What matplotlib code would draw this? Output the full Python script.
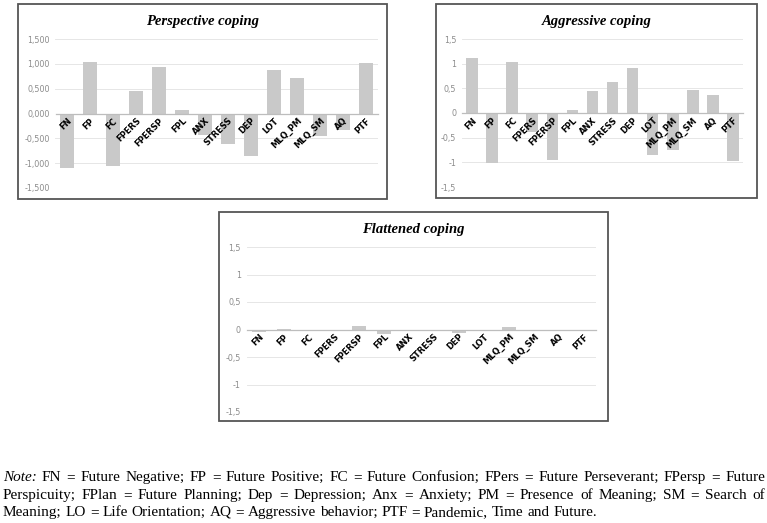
import matplotlib
matplotlib.use("Agg")
import matplotlib.pyplot as plt
import matplotlib.patches as mpatches
from matplotlib.ticker import FuncFormatter

W, H = 767, 523

categories = ["FN", "FP", "FC", "FPERS", "FPERSP", "FPL", "ANX", "STRESS",
              "DEP", "LOT", "MLQ_PM", "MLQ_SM", "AQ", "PTF"]

perspective = [-1.105, 1.045, -1.065, 0.462, 0.931, 0.067, -0.442, -0.616,
               -0.857, 0.871, 0.723, -0.462, -0.335, 1.018]
aggressive = [1.118, -1.010, 1.024, -0.390, -0.956, 0.060, 0.450, 0.633,
              0.909, -0.848, -0.747, 0.471, 0.370, -0.970]
flattened = [-0.050, 0.010, 0.000, -0.020, 0.055, -0.085, -0.015, -0.015,
             -0.065, 0.000, 0.045, -0.015, -0.020, 0.000]
y_ticks = [-1.5, -1.0, -0.5, 0.0, 0.5, 1.0, 1.5]

BAR = "#c9c9c9"
GRID = "#e6e6e6"
ZERO = "#bdbdbd"
TICK = "#8c8c8c"
FRAME = "#555555"

fig = plt.figure(figsize=(W / 100, H / 100), dpi=100)
fig.patch.set_facecolor("white")


def px_rect(x0, y0, x1, y1):
    return [x0 / W, 1 - y1 / H, (x1 - x0) / W, (y1 - y0) / H]


def fmt3(v, pos):
    return f"{v:.3f}".replace(".", ",")


def fmt_short(v, pos):
    s = f"{v:g}" if abs(v) > 1e-9 else "0"
    return s.replace(".", ",")


def panel(frame, plot, title, values, formatter):
    fx0, fy0, fx1, fy1 = frame
    fig.add_artist(mpatches.Rectangle((fx0 / W, 1 - fy1 / H), (fx1 - fx0) / W,
                                      (fy1 - fy0) / H, transform=fig.transFigure,
                                      fill=False, edgecolor=FRAME, linewidth=1.3))
    fig.text((fx0 + fx1) / 2 / W, 1 - (fy0 + 17) / H, title, ha="center",
             va="center", family="Liberation Serif", fontweight="bold",
             fontstyle="italic", fontsize=10.5)
    ax = fig.add_axes(px_rect(*plot))
    x = range(len(categories))
    for t in y_ticks:
        if t != 0:
            ax.axhline(t, color=GRID, linewidth=0.7, zorder=0)
    ax.bar(x, values, width=0.58, color=BAR, zorder=2)
    ax.set_xlim(-0.5, len(categories) - 0.5)
    ax.set_ylim(-1.5, 1.5)
    ax.set_yticks(y_ticks)
    ax.yaxis.set_major_formatter(FuncFormatter(formatter))
    for side in ["top", "right", "left"]:
        ax.spines[side].set_visible(False)
    ax.spines["bottom"].set_position(("data", 0))
    ax.spines["bottom"].set_color(ZERO)
    ax.spines["bottom"].set_linewidth(0.9)
    ax.spines["bottom"].set_zorder(3)
    ax.set_xticks(list(x))
    ax.set_xticklabels(categories, rotation=45, ha="right",
                       rotation_mode="anchor", fontsize=6, fontweight="bold",
                       color="black")
    ax.xaxis.set_zorder(5)
    ax.tick_params(axis="x", length=0, pad=2)
    ax.tick_params(axis="y", length=0, pad=4, labelsize=5.8, labelcolor=TICK)
    ax.set_facecolor("none")
    return ax


panel((18, 4, 387, 199), (55.5, 39, 377.5, 188), "Perspective coping",
      perspective, fmt3)
panel((436, 4, 757, 198), (462, 39, 743, 187), "Aggressive coping",
      aggressive, fmt_short)
panel((219, 212, 608, 421), (246.5, 247, 596.5, 412), "Flattened coping",
      flattened, fmt_short)

# note under the charts, one text per word so lines 1-2 can be justified
note_lines = [
    ["Note:", "FN", "=", "Future", "Negative;", "FP", "=", "Future", "Positive;",
     "FC", "=", "Future", "Confusion;", "FPers", "=", "Future", "Perseverant;",
     "FPersp", "=", "Future"],
    ["Perspicuity;", "FPlan", "=", "Future", "Planning;", "Dep", "=",
     "Depression;", "Anx", "=", "Anxiety;", "PM", "=", "Presence", "of",
     "Meaning;", "SM", "=", "Search", "of"],
    ["Meaning;", "LO", "=", "Life", "Orientation;", "AQ", "=", "Aggressive",
     "behavior;", "PTF", "=", "Pandemic,", "Time", "and", "Future."],
]
NOTE_FS = 11
left_px, right_px = 3, 765
baseline_y = [481, 499, 516]
renderer = fig.canvas.get_renderer()


def width_of(s, style="normal"):
    t = fig.text(0, 0, s, family="Liberation Serif", fontsize=NOTE_FS,
                 fontstyle=style)
    w = t.get_window_extent(renderer).width
    t.remove()
    return w


space_w = width_of("a a") - width_of("aa")
for i, words in enumerate(note_lines):
    styles = ["italic" if w == "Note:" else "normal" for w in words]
    widths = [width_of(w, s) for w, s in zip(words, styles)]
    if i < len(note_lines) - 1:
        gap = (right_px - left_px - sum(widths)) / (len(words) - 1)
    else:
        gap = space_w
    xpos = left_px
    for w, s, wd in zip(words, styles, widths):
        fig.text(xpos / W, (H - baseline_y[i]) / H, w, family="Liberation Serif",
                 fontsize=NOTE_FS, fontstyle=s, va="baseline", ha="left")
        xpos += wd + gap

fig.savefig("out.png", dpi=100)
